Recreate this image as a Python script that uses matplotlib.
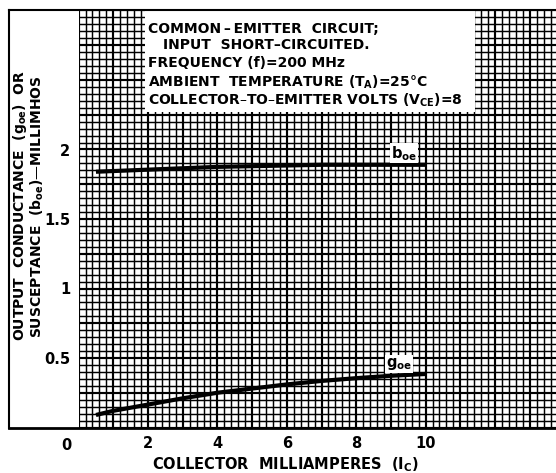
import numpy as np
import matplotlib
matplotlib.use('Agg')
import matplotlib.pyplot as plt
from matplotlib.patches import Rectangle
from matplotlib.lines import Line2D

plt.rcParams['font.family'] = 'DejaVu Sans'
plt.rcParams['font.weight'] = 'bold'
plt.rcParams['axes.labelweight'] = 'bold'
plt.rcParams['mathtext.fontset'] = 'dejavusans'
plt.rcParams['mathtext.default'] = 'bf'

# data
ic_ma = [0.5, 1, 2, 3, 4, 5, 6, 7, 8, 9, 10]
b_oe = [1.84, 1.845, 1.855, 1.865, 1.875, 1.88, 1.885, 1.89, 1.89, 1.89, 1.89]
g_oe = [0.09, 0.12, 0.165, 0.21, 0.25, 0.28, 0.31, 0.335, 0.355, 0.372, 0.385]

x_ticks = [2, 4, 6, 8, 10]
y_ticks = [0.5, 1, 1.5, 2]
y_tick_labels = ['0.5', '1', '1.5', '2']

note_lines = [
    'COMMON\u2009\u2013\u2009EMITTER  CIRCUIT;',
    'INPUT  SHORT\u2013CIRCUITED.',
    'FREQUENCY (f)=200 MHz',
    'AMBIENT  TEMPERATURE (T$_{A}$)=25\u00b0C',
    'COLLECTOR\u2013TO\u2013EMITTER VOLTS (V$_{CE}$)=8',
]

W, H = 556, 473
fig = plt.figure(figsize=(W / 100, H / 100), dpi=100)
x0, xb, yt = 78.6, 427.5, 10
ax = fig.add_axes([x0 / W, (H - xb) / H, (W - x0) / W, (xb - yt) / H])
xmax = (W - x0) / 34.7
ymax = (xb - yt) / 139.0
ax.set_xlim(0, xmax)
ax.set_ylim(0, ymax)

# graph paper
for xv in np.arange(0, xmax, 0.2):
    major = abs(xv - round(xv)) < 1e-6
    ax.axvline(xv, color='black', lw=1.55 if major else 1.05, zorder=1)
for yv in np.arange(0, ymax, 0.05):
    major = abs(yv / 0.25 - round(yv / 0.25)) < 1e-6
    ax.axhline(yv, color='black', lw=1.55 if major else 1.05, zorder=1)

for s in ax.spines.values():
    s.set_visible(False)

ax.plot(ic_ma, b_oe, color='black', lw=3, solid_capstyle='butt', zorder=3)
ax.plot(ic_ma, g_oe, color='black', lw=3, solid_capstyle='butt', zorder=3)

lab_kw = dict(fontsize=10.5, ha='left', va='baseline', zorder=4,
              bbox=dict(facecolor='white', edgecolor='none', pad=0.5))
ax.text(9.0, 1.94, r'b$_{oe}$', **lab_kw)
ax.text(8.85, 0.435, r'g$_{oe}$', **lab_kw)

ax.set_xticks(x_ticks)
ax.set_xticklabels([str(v) for v in x_ticks])
ax.set_yticks(y_ticks)
ax.set_yticklabels(y_tick_labels)
ax.tick_params(length=0, labelsize=10.5, pad=6)
ax.text(-0.35, -0.075, '0', fontsize=10.5, ha='center', va='top')

# note box
ax.add_patch(Rectangle((1.91, 2.27), 11.42 - 1.91, ymax - 2.27,
                       facecolor='white', edgecolor='none', zorder=5))
note_y = [2.867, 2.752, 2.622, 2.486, 2.356]
note_x = [2.0, 2.43, 2.0, 2.0, 2.0]
for t, xx, yy in zip(note_lines, note_x, note_y):
    ax.text(xx, yy, t, fontsize=10, ha='left', va='center', zorder=6)

ax.set_xlabel('COLLECTOR  MILLIAMPERES  (I$_{C}$)', fontsize=10.5)
ax.xaxis.set_label_coords((285 - x0) / (W - x0), -0.066)

# outer frame
fx, fy = 9 / W, 1 - yt / H
fb = 1 - xb / H
fig.add_artist(Line2D([fx, 1], [fy, fy], color='black', lw=1.5))
fig.add_artist(Line2D([fx, 1], [fb, fb], color='black', lw=2))
fig.add_artist(Line2D([fx, fx], [fb, fy], color='black', lw=1.5))

fig.text(20 / W, 1 - 205 / H, 'OUTPUT  CONDUCTANCE  (g$_{oe}$)  OR', rotation=90,
         fontsize=10, ha='center', va='center')
fig.text(37 / W, 1 - 207 / H, 'SUSCEPTANCE  (b$_{oe}$)\u2014MILLIMHOS', rotation=90,
         fontsize=10, ha='center', va='center')

fig.savefig('out.png', dpi=100)
